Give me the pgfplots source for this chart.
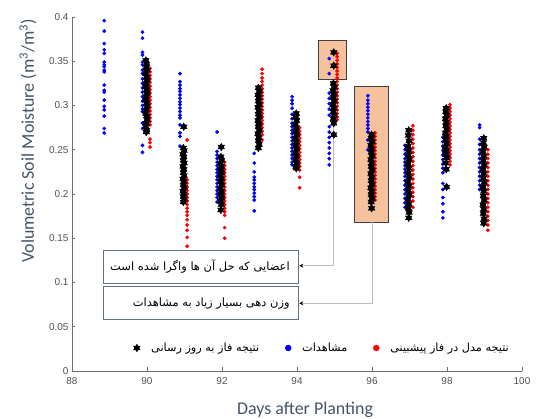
\documentclass[border=0pt]{standalone}
\usepackage{pgfplots}
\pgfplotsset{compat=1.18}
\usepackage{fontspec}
\usetikzlibrary{arrows.meta}
\setmainfont{Carlito}
\newfontfamily\arialfont{Liberation Sans}
\newfontfamily\arabicfont[Script=Arabic]{DejaVu Sans}
\TeXXeTstate=1
\definecolor{labcol}{RGB}{68,84,106}
\definecolor{tickcol}{RGB}{80,80,80}
\definecolor{axcol}{RGB}{110,110,110}
\definecolor{peach}{RGB}{244,177,131}
\definecolor{boxcol}{RGB}{100,112,135}
\definecolor{conn}{RGB}{190,190,190}
\definecolor{hlborder}{RGB}{64,64,64}
\pgfdeclareplotmark{hexagram}{%
 \pgfpathmoveto{\pgfpointpolar{90}{\pgfplotmarksize}}%
 \pgfpathlineto{\pgfpointpolar{210}{\pgfplotmarksize}}%
 \pgfpathlineto{\pgfpointpolar{330}{\pgfplotmarksize}}%
 \pgfpathclose
 \pgfpathmoveto{\pgfpointpolar{270}{\pgfplotmarksize}}%
 \pgfpathlineto{\pgfpointpolar{30}{\pgfplotmarksize}}%
 \pgfpathlineto{\pgfpointpolar{150}{\pgfplotmarksize}}%
 \pgfpathclose
 \pgfusepathqfillstroke}
\begin{document}
\begin{tikzpicture}
\begin{axis}[name=ax,
  scale only axis, width=450bp, height=354bp,
  xmin=88, xmax=100, ymin=0, ymax=0.4,
  axis x line*=bottom, axis y line*=left,
  axis line style={axcol, line width=0.8pt, -},
  tick style={axcol, line width=0.7pt},
  tick align=inside, major tick length=3.5bp,
  xtick={88,90,...,100},
  ytick={0,0.05,0.1,0.15,0.2,0.25,0.3,0.35,0.4},
  yticklabels={0,0.05,0.1,0.15,0.2,0.25,0.3,0.35,0.4},
  xticklabels={88,90,92,94,96,98,100},
  tick label style={font=\arialfont\fontsize{10}{12}\selectfont, text=tickcol},
  xticklabel style={yshift=-3bp},
  xlabel={Days after Planting},
  ylabel={Volumetric Soil Moisture (m\textsuperscript{3}/m\textsuperscript{3})},
  every axis x label/.style={at={(axis description cs:0.518,-0.11)}, anchor=center,
    font=\fontsize{18}{21}\selectfont, text=labcol},
  every axis y label/.style={at={(axis description cs:-0.098,0.65)}, anchor=center, rotate=90,
    font=\fontsize{18}{21}\selectfont, text=labcol},
  legend columns=3,
  legend style={draw=none, fill=none, at={(0.556,0.065)}, anchor=center,
    font=\arabicfont\fontsize{11.3}{13}\selectfont,
    /tikz/every even column/.append style={column sep=24bp},
    /tikz/every odd column/.append style={column sep=9bp}},
  clip=false
]
\addlegendimage{only marks, mark=hexagram, mark size=3.8bp, black}
\addlegendentry{\beginR نتیجه فاز به روز رسانی\endR}
\addlegendimage{only marks, mark=*, mark size=3bp, blue, mark options={draw=none}}
\addlegendentry{\beginR مشاهدات\endR}
\addlegendimage{only marks, mark=*, mark size=3bp, red, mark options={draw=none}}
\addlegendentry{\beginR نتیجه مدل در فاز پیشبینی\endR}

% observations (blue)
\addplot[only marks, mark=*, mark size=1.7bp, blue, mark options={draw=none}, forget plot] coordinates {
(88.86,0.396)(88.86,0.384)(88.86,0.370)(88.86,0.363)(88.86,0.359)(88.86,0.349)(88.86,0.346)(88.86,0.344)(88.86,0.340)(88.86,0.338)(88.86,0.323)(88.86,0.317)(88.86,0.315)(88.86,0.306)(88.86,0.299)(88.86,0.295)(88.86,0.288)(88.86,0.274)(88.86,0.269)
(89.88,0.383)(89.88,0.376)(89.88,0.360)(89.88,0.357)(89.88,0.349)(89.88,0.346)(89.88,0.340)(89.88,0.336)(89.88,0.330)(89.88,0.325)(89.88,0.320)(89.88,0.315)(89.88,0.310)(89.88,0.305)(89.88,0.300)(89.88,0.296)(89.88,0.293)(89.88,0.280)(89.88,0.274)(89.88,0.255)(89.88,0.247)
(90.88,0.336)(90.88,0.327)(90.88,0.323)(90.88,0.319)(90.88,0.316)(90.88,0.312)(90.88,0.308)(90.88,0.304)(90.88,0.301)(90.88,0.297)(90.88,0.293)(90.88,0.289)(90.88,0.286)(90.88,0.278)(90.88,0.269)(90.88,0.265)(90.88,0.254)
(91.87,0.270)(91.87,0.248)(91.87,0.244)(91.87,0.240)(91.87,0.236)(91.87,0.232)(91.87,0.228)(91.87,0.224)(91.87,0.220)(91.87,0.216)(91.87,0.212)(91.87,0.208)(91.87,0.204)(91.87,0.200)(91.87,0.196)(91.87,0.191)
(92.86,0.246)(92.86,0.235)(92.86,0.225)(92.86,0.219)(92.86,0.216)(92.86,0.212)(92.86,0.208)(92.86,0.205)(92.86,0.201)(92.86,0.197)(92.86,0.193)(92.86,0.181)
(93.87,0.310)(93.87,0.306)(93.87,0.302)(93.87,0.297)(93.87,0.290)(93.87,0.285)(93.87,0.280)(93.87,0.276)(93.87,0.272)(93.87,0.268)(93.87,0.264)(93.87,0.260)(93.87,0.256)(93.87,0.252)(93.87,0.248)(93.87,0.244)(93.87,0.240)(93.87,0.236)(93.87,0.233)
(94.86,0.353)(94.86,0.336)(94.86,0.314)(94.86,0.308)(94.86,0.302)(94.86,0.296)(94.86,0.289)(94.86,0.276)(94.86,0.270)(94.86,0.264)(94.86,0.258)(94.86,0.252)(94.86,0.246)(94.86,0.240)(94.86,0.233)
(95.89,0.311)(95.89,0.306)(95.89,0.302)(95.89,0.298)(95.89,0.294)(95.89,0.290)(95.89,0.286)(95.89,0.282)(95.89,0.278)(95.89,0.274)(95.89,0.270)(95.89,0.261)(95.89,0.250)
(96.88,0.255)(96.88,0.250)(96.88,0.245)(96.88,0.240)(96.88,0.236)(96.88,0.232)(96.88,0.228)(96.88,0.224)(96.88,0.220)(96.88,0.215)(96.88,0.210)(96.88,0.205)(96.88,0.200)(96.88,0.195)(96.88,0.190)(96.88,0.185)
(97.89,0.264)(97.89,0.259)(97.89,0.254)(97.89,0.249)(97.89,0.244)(97.89,0.239)(97.89,0.234)(97.89,0.229)(97.89,0.224)(97.89,0.212)(97.89,0.205)(97.89,0.196)(97.89,0.189)(97.89,0.180)(97.89,0.173)
(98.87,0.278)(98.87,0.275)(98.87,0.262)(98.87,0.256)(98.87,0.250)(98.87,0.245)(98.87,0.240)(98.87,0.235)(98.87,0.230)(98.87,0.225)(98.87,0.220)(98.87,0.215)(98.87,0.210)(98.87,0.205)
};

% prediction phase (red)
\addplot[only marks, mark=*, mark size=1.7bp, red, mark options={draw=none}, forget plot] coordinates {
(90.08,0.342)(90.08,0.338)(90.08,0.334)(90.08,0.330)(90.08,0.326)(90.08,0.322)(90.08,0.318)(90.08,0.314)(90.08,0.310)(90.08,0.306)(90.08,0.302)(90.08,0.298)(90.08,0.294)(90.08,0.290)(90.08,0.286)(90.08,0.282)(90.08,0.278)(90.08,0.262)(90.08,0.258)(90.08,0.253)
(91.07,0.261)(91.07,0.216)(91.07,0.212)(91.07,0.208)(91.07,0.204)(91.07,0.200)(91.07,0.196)(91.07,0.192)(91.07,0.188)(91.07,0.184)(91.07,0.180)(91.07,0.176)(91.07,0.171)(91.07,0.165)(91.07,0.159)(91.07,0.151)(91.07,0.141)
(92.07,0.236)(92.07,0.232)(92.07,0.228)(92.07,0.224)(92.07,0.220)(92.07,0.216)(92.07,0.212)(92.07,0.208)(92.07,0.204)(92.07,0.200)(92.07,0.196)(92.07,0.192)(92.07,0.188)(92.07,0.184)(92.07,0.180)(92.07,0.176)(92.07,0.162)(92.07,0.150)
(93.07,0.341)(93.07,0.336)(93.07,0.331)(93.07,0.327)(93.07,0.323)(93.07,0.319)(93.07,0.315)(93.07,0.311)(93.07,0.307)(93.07,0.303)(93.07,0.299)(93.07,0.295)(93.07,0.291)(93.07,0.287)(93.07,0.283)(93.07,0.279)(93.07,0.275)(93.07,0.271)(93.07,0.267)(93.07,0.261)
(94.07,0.275)(94.07,0.271)(94.07,0.267)(94.07,0.263)(94.07,0.259)(94.07,0.255)(94.07,0.251)(94.07,0.247)(94.07,0.243)(94.07,0.239)(94.07,0.235)(94.07,0.231)(94.07,0.227)(94.07,0.219)(94.07,0.207)
(95.07,0.359)(95.07,0.355)(95.07,0.351)(95.07,0.347)(95.07,0.343)(95.07,0.339)(95.07,0.335)(95.07,0.331)(95.07,0.327)(95.07,0.323)(95.07,0.319)(95.07,0.315)(95.07,0.311)(95.07,0.307)(95.07,0.303)(95.07,0.299)(95.07,0.295)(95.07,0.291)(95.07,0.287)(95.07,0.284)
(96.08,0.269)(96.08,0.265)(96.08,0.261)(96.08,0.257)(96.08,0.253)(96.08,0.249)(96.08,0.245)(96.08,0.241)(96.08,0.237)(96.08,0.233)(96.08,0.229)(96.08,0.225)(96.08,0.221)(96.08,0.217)(96.08,0.213)(96.08,0.209)(96.08,0.205)(96.08,0.201)(96.08,0.197)(96.08,0.193)
(97.09,0.277)(97.09,0.272)(97.09,0.267)(97.09,0.262)(97.09,0.257)(97.09,0.252)(97.09,0.247)(97.09,0.242)(97.09,0.237)(97.09,0.232)(97.09,0.227)(97.09,0.222)(97.09,0.217)(97.09,0.212)(97.09,0.207)(97.09,0.202)(97.09,0.197)(97.09,0.192)(97.09,0.185)
(98.08,0.301)(98.08,0.297)(98.08,0.293)(98.08,0.289)(98.08,0.285)(98.08,0.281)(98.08,0.277)(98.08,0.273)(98.08,0.269)(98.08,0.265)(98.08,0.261)(98.08,0.257)(98.08,0.253)(98.08,0.249)(98.08,0.245)(98.08,0.241)(98.08,0.237)(98.08,0.233)
(99.09,0.250)(99.09,0.245)(99.09,0.240)(99.09,0.235)(99.09,0.230)(99.09,0.225)(99.09,0.220)(99.09,0.215)(99.09,0.210)(99.09,0.205)(99.09,0.200)(99.09,0.195)(99.09,0.190)(99.09,0.185)(99.09,0.180)(99.09,0.175)(99.09,0.170)(99.09,0.165)(99.09,0.159)
};

% update phase (black)
\addplot[only marks, mark=hexagram, mark size=3.8bp, black, forget plot] coordinates {
(89.97,0.351)(89.99,0.347)(89.98,0.343)(90.00,0.340)(89.97,0.336)(89.99,0.332)(90.00,0.329)(89.98,0.325)(89.97,0.321)(89.99,0.318)(90.00,0.314)(89.98,0.310)(89.97,0.306)(89.99,0.303)(90.00,0.299)(89.98,0.295)(89.97,0.291)(89.99,0.288)(90.00,0.284)(89.98,0.280)(89.97,0.276)(89.99,0.272)(89.98,0.270)
(90.98,0.276)(90.97,0.252)(90.99,0.249)(90.96,0.245)(90.98,0.242)(90.97,0.238)(90.99,0.235)(90.96,0.231)(90.98,0.228)(90.97,0.224)(90.99,0.221)(90.96,0.217)(90.98,0.214)(90.97,0.210)(90.99,0.207)(90.96,0.203)(90.98,0.200)(90.97,0.197)(90.99,0.194)(90.97,0.191)
(91.98,0.253)(91.97,0.242)(91.99,0.238)(91.96,0.235)(91.98,0.231)(91.97,0.228)(91.99,0.224)(91.96,0.221)(91.98,0.217)(91.97,0.214)(91.99,0.210)(91.96,0.207)(91.98,0.203)(91.97,0.200)(91.99,0.196)(91.96,0.192)(91.98,0.188)(91.97,0.182)
(92.97,0.320)(92.99,0.316)(92.96,0.312)(92.98,0.309)(92.97,0.305)(92.99,0.301)(92.96,0.298)(92.98,0.294)(92.97,0.290)(92.99,0.287)(92.96,0.283)(92.98,0.279)(92.97,0.276)(92.99,0.272)(92.96,0.268)(92.98,0.264)(92.97,0.260)(92.99,0.256)(92.97,0.252)
(93.98,0.291)(93.97,0.287)(93.99,0.283)(93.96,0.279)(93.98,0.275)(93.97,0.271)(93.99,0.267)(93.96,0.263)(93.98,0.259)(93.97,0.255)(93.99,0.251)(93.96,0.247)(93.98,0.243)(93.97,0.239)(93.99,0.235)(93.97,0.231)(93.98,0.229)
(94.98,0.360)(94.98,0.345)(94.97,0.325)(94.99,0.321)(94.96,0.317)(94.98,0.313)(94.97,0.309)(94.99,0.305)(94.96,0.301)(94.98,0.297)(94.97,0.293)(94.99,0.289)(94.97,0.285)(94.98,0.280)(94.98,0.267)
(95.99,0.267)(95.98,0.263)(96.00,0.259)(95.97,0.255)(95.99,0.251)(95.98,0.247)(96.00,0.243)(95.97,0.239)(95.99,0.235)(95.98,0.231)(96.00,0.227)(95.97,0.223)(95.99,0.219)(95.98,0.215)(96.00,0.211)(95.97,0.207)(95.99,0.203)(95.98,0.199)(96.00,0.195)(95.98,0.191)(95.99,0.184)
(96.98,0.272)(96.97,0.266)(96.99,0.260)(96.96,0.254)(96.98,0.249)(96.97,0.244)(96.99,0.239)(96.96,0.234)(96.98,0.229)(96.97,0.224)(96.99,0.219)(96.96,0.214)(96.98,0.209)(96.97,0.204)(96.99,0.199)(96.96,0.194)(96.98,0.189)(96.97,0.184)(96.99,0.179)(96.98,0.173)
(97.98,0.297)(97.97,0.293)(97.99,0.289)(97.96,0.285)(97.98,0.281)(97.97,0.277)(97.99,0.273)(97.96,0.269)(97.98,0.265)(97.97,0.261)(97.99,0.257)(97.96,0.253)(97.98,0.249)(97.97,0.245)(97.99,0.241)(97.97,0.235)(97.98,0.228)(97.99,0.208)
(98.98,0.263)(98.97,0.258)(98.99,0.253)(98.96,0.248)(98.98,0.243)(98.97,0.238)(98.99,0.233)(98.96,0.228)(98.98,0.223)(98.97,0.218)(98.99,0.213)(98.96,0.208)(98.98,0.203)(98.97,0.198)(98.99,0.193)(98.96,0.188)(98.98,0.183)(98.97,0.178)(98.99,0.172)(98.98,0.167)
};

% highlight boxes
\draw[fill=peach, fill opacity=0.78, draw=hlborder, line width=0.9pt]
  (axis cs:94.56,0.329) rectangle (axis cs:95.33,0.374);
\draw[fill=peach, fill opacity=0.78, draw=hlborder, line width=0.9pt]
  (axis cs:95.52,0.168) rectangle (axis cs:96.43,0.321);
% connectors
\draw[conn, line width=0.8pt, -{Stealth[black,length=4bp,width=4bp]}]
  (axis cs:94.96,0.329) |- (axis cs:94.06,0.119);
\draw[conn, line width=0.8pt, -{Stealth[black,length=4bp,width=4bp]}]
  (axis cs:96.0,0.168) |- (axis cs:94.06,0.0765);
% text boxes
\draw[boxcol, fill=white, line width=0.9pt] (axis cs:88.83,0.099) rectangle (axis cs:94.03,0.136);
\node[anchor=east, font=\arabicfont\fontsize{11.5}{13}\selectfont, text=black]
  at (axis cs:93.9,0.1175) {\beginR اعضایی که حل آن ها واگرا شده است\endR};
\draw[boxcol, fill=white, line width=0.9pt] (axis cs:88.83,0.058) rectangle (axis cs:94.03,0.095);
\node[anchor=east, font=\arabicfont\fontsize{11.5}{13}\selectfont, text=black]
  at (axis cs:93.9,0.0765) {\beginR وزن دهی بسیار زیاد به مشاهدات\endR};
\end{axis}
\pgfresetboundingbox
\path[use as bounding box] ([xshift=-72bp,yshift=-48bp]ax.south west) rectangle ([xshift=14bp,yshift=17bp]ax.north east);
\end{tikzpicture}
\end{document}
